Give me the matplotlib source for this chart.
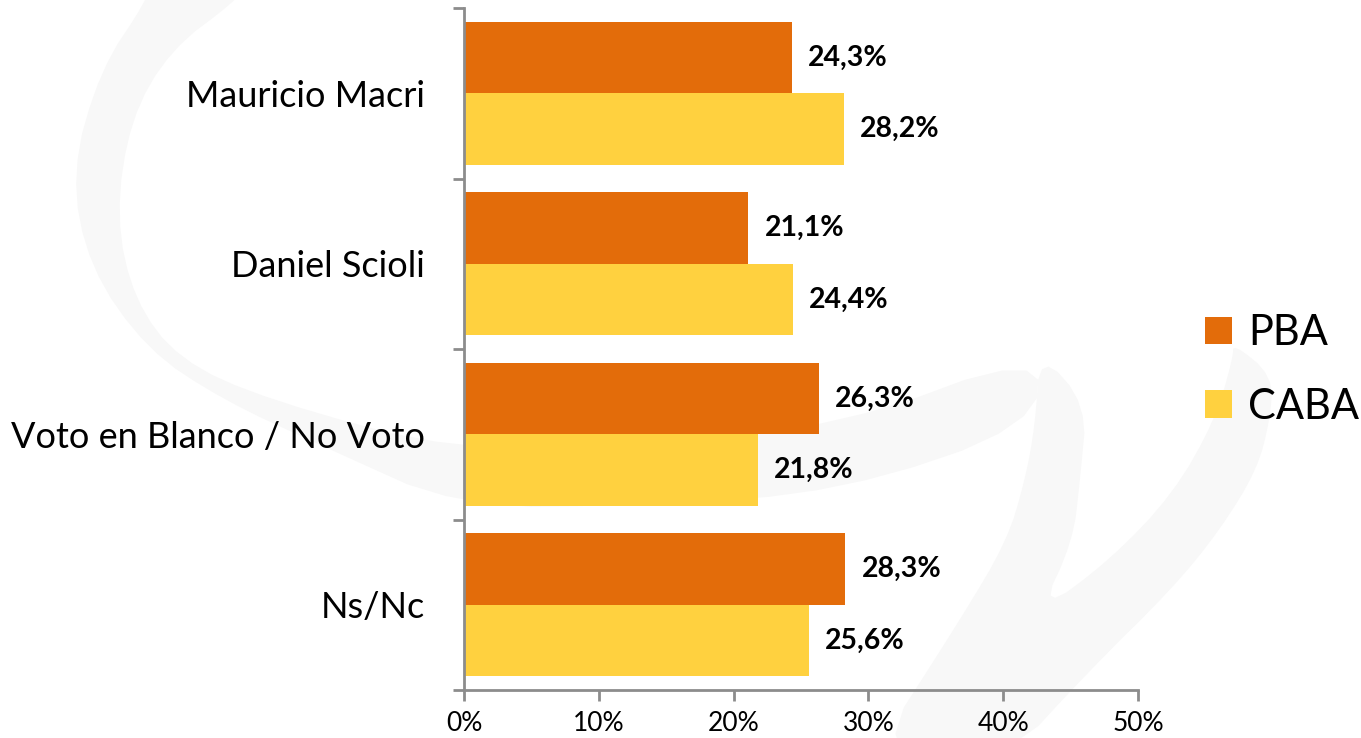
import numpy as np
import matplotlib.pyplot as plt
from matplotlib.patches import Polygon

categories = ['Mauricio Macri', 'Daniel Scioli', 'Voto en Blanco / No Voto', 'Ns/Nc']
pba = [24.3, 21.1, 26.3, 28.3]
caba = [28.2, 24.4, 21.8, 25.6]
series_names = ['PBA', 'CABA']
xticks = [0, 10, 20, 30, 40, 50]

c_pba = '#E36C0A'
c_caba = '#FFD13F'
axis_col = '#8C8C8C'
wm_col = '#f8f8f8'


def smooth(pts, n=3):
    # chaikin corner cutting, closed outline
    p = np.array(pts, dtype=float)
    for _ in range(n):
        q = np.roll(p, -1, axis=0)
        p = np.column_stack([0.75 * p + 0.25 * q, 0.25 * p + 0.75 * q]).reshape(-1, 2)
    return p


fig = plt.figure(figsize=(13.61, 7.38), dpi=100)

# faint logo watermark behind the chart (pixel coords of the figure)
bg = fig.add_axes([0, 0, 1, 1], zorder=0)
bg.set_xlim(0, 1361)
bg.set_ylim(738, 0)
bg.axis('off')
c_outer = [(150, -20), (147, 0), (100, 70), (71, 173), (89, 267), (147, 350), (223, 400),
           (320, 445), (460, 508), (650, 505), (840, 492), (1035, 426)]
c_inner = [(1040, 352), (840, 426), (650, 442), (460, 452), (268, 400),
           (179, 360), (134, 300), (116, 217), (130, 120), (170, 50), (237, 0), (250, -20)]
bg.add_patch(Polygon(smooth(c_outer + c_inner, 2), closed=True, color=wm_col, lw=0))
hook = [(1035, 426), (1040, 352), (1087, 405), (1080, 480), (1073, 541), (1040, 612),
        (1110, 560), (1173, 494), (1215, 420), (1233, 358), (1233, 343), (1273, 376),
        (1270, 420), (1257, 470), (1220, 530), (1173, 588), (1090, 670), (1007, 760),
        (870, 760), (960, 620), (1007, 541), (1025, 480)]
bg.add_patch(Polygon(smooth(hook, 2), closed=True, color=wm_col, lw=0))

ax = fig.add_axes([464 / 1361, 1 - 690 / 738, (1138 - 464) / 1361, (690 - 8) / 738], zorder=1)
ax.patch.set_alpha(0)

y = np.arange(len(categories))[::-1].astype(float)
h = 0.42
ax.barh(y + h / 2, pba, height=h, color=c_pba, label=series_names[0])
ax.barh(y - h / 2, caba, height=h, color=c_caba, label=series_names[1])

for yy, v in zip(y + h / 2, pba):
    ax.text(v + 1.2, yy, f'{v:.1f}%'.replace('.', ','), va='center', ha='left',
            fontsize=20.5, fontweight='bold', family='Lato')
for yy, v in zip(y - h / 2, caba):
    ax.text(v + 1.2, yy, f'{v:.1f}%'.replace('.', ','), va='center', ha='left',
            fontsize=20.5, fontweight='bold', family='Lato')

ax.set_xlim(0, 50)
ax.set_ylim(-0.5, len(categories) - 0.5)
ax.set_xticks(xticks)
ax.set_xticklabels([f'{t}%' for t in xticks], fontsize=19, family='Lato')
ax.set_yticks(np.arange(-0.5, len(categories), 1.0))
ax.set_yticklabels([])
ax.set_yticks(y, minor=True)
ax.set_yticklabels(categories, minor=True, fontsize=26, family='Lato')
ax.tick_params(axis='y', which='minor', length=0, pad=28)
ax.tick_params(axis='y', which='major', length=8, width=2, color=axis_col)
ax.tick_params(axis='x', length=8, width=2, color=axis_col, pad=7)

for s in ['top', 'right']:
    ax.spines[s].set_visible(False)
for s in ['left', 'bottom']:
    ax.spines[s].set_color(axis_col)
    ax.spines[s].set_linewidth(2)

fig.legend(*ax.get_legend_handles_labels(), loc='center left',
           bbox_to_anchor=(1184 / 1361, 1 - 370 / 738), frameon=False, borderpad=0,
           prop={'family': 'Lato', 'size': 30}, handlelength=0.64,
           handleheight=0.64, handletextpad=0.4, labelspacing=0.85)

fig.savefig('out.png', dpi=100)
